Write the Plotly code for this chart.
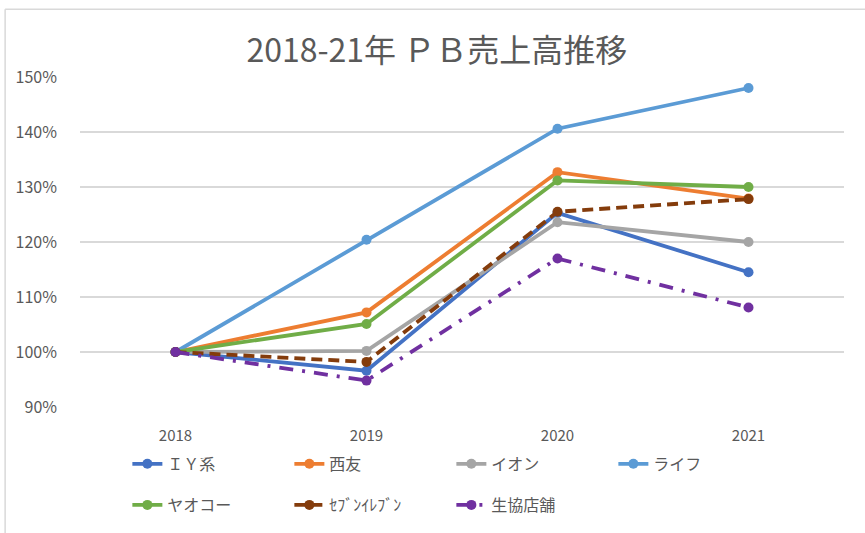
import plotly.graph_objects as go

years = ["2018", "2019", "2020", "2021"]

iy = [100.0, 96.6, 125.3, 114.5]
seiyu = [100.0, 107.2, 132.7, 127.9]
aeon = [100.0, 100.2, 123.6, 120.0]
life = [100.0, 120.4, 140.6, 148.0]
yaoko = [100.0, 105.1, 131.2, 130.0]
seven = [100.0, 98.2, 125.5, 127.8]
coop = [100.0, 94.8, 117.0, 108.1]

yticks = [90, 100, 110, 120, 130, 140, 150]

# name, values, colour, dash, legend row
series = [
    ("ＩＹ系", iy, "#4472c4", "solid", "legend"),
    ("西友", seiyu, "#ed7d31", "solid", "legend"),
    ("イオン", aeon, "#a5a5a5", "solid", "legend"),
    ("ライフ", life, "#5b9bd5", "solid", "legend"),
    ("ヤオコー", yaoko, "#70ad47", "solid", "legend2"),
    ("ｾﾌﾞﾝｲﾚﾌﾞﾝ", seven, "#843c0c", "11px,6px", "legend2"),
    ("生協店舗", coop, "#7030a0", "14px,9px,3px,9px", "legend2"),
]

font = "Noto Sans CJK JP, Noto Sans, sans-serif"

fig = go.Figure()
for name, vals, color, dash, leg in series:
    fig.add_trace(go.Scatter(
        x=years, y=vals, name=name, mode="lines+markers",
        line=dict(color=color, width=3.8, dash=dash),
        marker=dict(color=color, size=10),
        legend=leg,
    ))

legend_style = dict(orientation="h", xanchor="left", yanchor="middle",
                    entrywidth=117, entrywidthmode="pixels",
                    font=dict(size=16, color="#595959"), bgcolor="rgba(0,0,0,0)")

fig.update_layout(
    width=865, height=533,
    margin=dict(l=80, r=21, t=77, b=125),
    paper_bgcolor="white", plot_bgcolor="white",
    font=dict(family=font, color="#595959", size=15),
    title=dict(text="2018-21年 ＰＢ売上高推移", x=0.505, xanchor="center",
               y=0.904, yanchor="middle",
               font=dict(size=32, color="#595959", family=font)),
    legend=dict(x=0.062, y=-0.169, **legend_style),
    legend2=dict(x=0.062, y=-0.293, **legend_style),
    showlegend=True,
)
fig.update_xaxes(type="category", range=[-0.5, 3.5], showgrid=False,
                 showline=False, zeroline=False, ticks="",
                 ticklabelstandoff=18, tickfont=dict(size=15))
fig.update_yaxes(range=[90, 150], tickvals=yticks,
                 ticktext=[f"{v}%" for v in yticks],
                 gridcolor="#d9d9d9", gridwidth=1.5, zeroline=False,
                 showline=False, ticklabelstandoff=22, tickfont=dict(size=16))

# chart area border (top and left edges visible)
fig.add_shape(type="line", xref="paper", yref="paper",
              x0=-0.098, x1=1.04, y0=1.205, y1=1.205,
              line=dict(color="#d9d9d9", width=1.5))
fig.add_shape(type="line", xref="paper", yref="paper",
              x0=-0.098, x1=-0.098, y0=1.205, y1=-0.4,
              line=dict(color="#d9d9d9", width=1.5))

fig.write_html("out.html", config={"displayModeBar": False},
               post_script="document.body.style.margin='0';")
